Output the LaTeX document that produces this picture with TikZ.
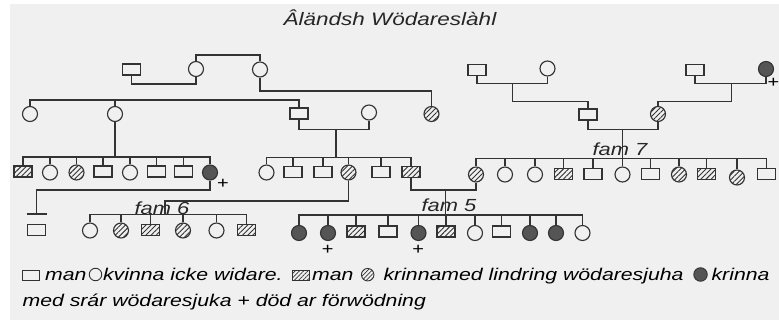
\documentclass[tikz,border=0pt]{standalone}
\usepackage{fontspec}
\setmainfont{Liberation Sans}[FakeStretch=1.25]
\usetikzlibrary{patterns.meta}
\definecolor{bg}{HTML}{F0F0F0}
\definecolor{ink}{HTML}{333333}
\definecolor{dark}{HTML}{555555}
\begin{document}
\begin{tikzpicture}[x=1pt,y=-1pt,line width=1.15pt,color=ink,
  sq/.style={rectangle,draw=ink,minimum width=18pt,minimum height=11pt,inner sep=0pt},
  ci/.style={circle,draw=ink,minimum size=15pt,inner sep=0pt},
  hatch/.style={pattern={Lines[angle=45,distance=3.6pt,line width=0.9pt]},pattern color=ink},
  hsq/.style={sq,hatch}, hci/.style={ci,hatch}, fci/.style={ci,fill=dark},
  lsq/.style={rectangle,draw=ink,line width=0.9pt,minimum width=17pt,minimum height=10pt,inner sep=0pt},
  lci/.style={circle,draw=ink,line width=0.9pt,minimum size=12.5pt,inner sep=0pt},
  lhatch/.style={pattern={Lines[angle=45,distance=3pt,line width=0.7pt]},pattern color=ink},
  lhsq/.style={lsq,lhatch}, lhci/.style={lci,lhatch},
  lfci/.style={lci,fill=dark,minimum size=13.5pt},
  lbl/.style={font=\fontsize{17.5}{21}\selectfont\itshape,text=black!85,inner sep=0pt},
  leg/.style={font=\fontsize{17}{21}\selectfont\itshape,text=black,inner sep=0pt,anchor=base west},
  plus/.style={font=\fontsize{16}{20}\selectfont,text=black,inner sep=0pt}]
\useasboundingbox (0,0) rectangle (779,320);
\fill[white] (0,0) rectangle (779,320);
\fill[bg] (10,4) rectangle (779,320);
% title
\node[font=\fontsize{18}{22}\selectfont\itshape,text=black!85,inner sep=0pt] (title) at (390,18) {Âländsh Wödareslàhl};
% generation 1
\node[sq]  (m1) at (131.5,69.5) {};
\node[ci]  (f1) at (196,69) {};
\node[ci]  (f2) at (260,69.5) {};
\node[sq]  (m2) at (477,69.7) {};
\node[ci]  (f3) at (547.5,68.5) {};
\node[sq]  (m3) at (695,70) {};
\node[fci] (f4) at (766,69) {};
\node[plus] (p0) at (773.5,83) {+};
% generation 2
\node[ci]  (ca) at (30,114) {};
\node[ci]  (cb) at (115,114) {};
\node[sq]  (s1) at (299,113.5) {};
\node[ci]  (w1) at (369,112.5) {};
\node[hci] (h1) at (431.5,114) {};
\node[sq]  (m4) at (588,114.5) {};
\node[hci] (h2) at (658,114) {};
% generation 3 left
\node[hsq] (L1) at (23,171.5) {};
\node[ci]  (L2) at (50,172.5) {};
\node[hci] (L3) at (76.5,172.5) {};
\node[sq]  (L4) at (103,171.5) {};
\node[ci]  (L5) at (130,172.5) {};
\node[sq]  (L6) at (156.7,171.5) {};
\node[sq]  (L7) at (183.3,171.5) {};
\node[fci] (L8) at (210,172.5) {};
\node[plus] (p1) at (223,184) {+};
% generation 3 middle
\node[ci]  (M1) at (266.5,172.5) {};
\node[sq]  (M2) at (293,172) {};
\node[sq]  (M3) at (323,172) {};
\node[hci] (M4) at (348.5,172.5) {};
\node[sq]  (M5) at (381,172) {};
\node[hsq] (M6) at (411,172) {};
% generation 3 right (fam 7)
\node[hci] (R1) at (476,174.5) {};
\node[ci]  (R2) at (505,174.5) {};
\node[ci]  (R3) at (535,174.5) {};
\node[hsq] (R4) at (563.7,174) {};
\node[sq]  (R5) at (593,174) {};
\node[ci]  (R6) at (622.5,174.5) {};
\node[sq]  (R7) at (650.5,174) {};
\node[hci] (R8) at (679,174.5) {};
\node[hsq] (R9) at (706.7,174) {};
\node[hci] (R10) at (737,177.5) {};
\node[sq]  (R11) at (766.7,174) {};
% generation 4
\node[sq]  (P1) at (36.5,230) {};
\node[ci]  (S1) at (90,230.5) {};
\node[hci] (S2) at (121,230.5) {};
\node[hsq] (S3) at (150.3,230) {};
\node[hci] (S4) at (183,230.5) {};
\node[ci]  (S5) at (216.5,230.5) {};
\node[hsq] (S6) at (246.5,230) {};
\node[fci] (F1) at (299,233) {};
\node[fci] (F2) at (328,233) {};
\node[plus] (p2) at (327.7,250) {+};
\node[hsq] (F3) at (356,231.5) {};
\node[sq]  (F4) at (388,231.5) {};
\node[fci] (F5) at (418.5,233) {};
\node[plus] (p3) at (418.3,250) {+};
\node[hsq] (F6) at (446,231.5) {};
\node[ci]  (F7) at (475,233) {};
\node[sq]  (F8) at (501.5,231.5) {};
\node[fci] (F9) at (530,233) {};
\node[fci] (F10) at (556,233) {};
\node[ci]  (F11) at (582.5,233) {};
% junction coordinates
\coordinate (c1) at (164,84);
\coordinate (c2) at (228,55);
\coordinate (c3) at (345,91);
\coordinate (c4) at (165,100);
\coordinate (c5) at (336,129.3);
\coordinate (c6) at (336,157.3);
\coordinate (c7) at (115,157);
\coordinate (c8) at (512.7,83.7);
\coordinate (c9) at (512.7,101.7);
\coordinate (c10) at (731.7,83.7);
\coordinate (c11) at (731.7,101.7);
\coordinate (c12) at (622.7,129.3);
\coordinate (c13) at (622.7,158.3);
\coordinate (c14) at (445.7,190);
\coordinate (c15) at (445.7,215);
\coordinate (c16) at (165,201);
\coordinate (c17) at (165,214.3);
\coordinate (c18) at (36.5,190);
\coordinate (c19) at (36.5,214);
\coordinate (c19a) at (26.5,214);
\coordinate (c19b) at (46.5,214);
% connectors generation 1
\draw (m1.south) |- (c1) -| (f1.south);
\draw (f1.north) |- (c2) -| (f2.north);
\draw (f2.south) |- (c3) -| (h1.north);
\draw (ca.north) |- (c4) -| (s1.north);
\draw (cb.north) -- (cb.north |- c4);
\draw (m2.south) |- (c8) -| (f3.south);
\draw (c8) -- (c9) -| (m4.north);
\draw (m3.south) |- (c10) -| (f4.south);
\draw (c10) -- (c11) -| (h2.north);
% connectors generation 2
\draw (cb.south) -- (c7);
\draw (L1.north) |- (c7) -| (L8.north);
\foreach \n in {L2,L3,L4,L5,L6,L7} \draw (\n.north) -- (\n.north |- c7);
\draw (s1.south) |- (c5) -| (w1.south);
\draw (c5) -- (c6);
\draw (M1.north) |- (c6) -| (M6.north);
\foreach \n in {M2,M3,M4,M5} \draw (\n.north) -- (\n.north |- c6);
\draw (m4.south) |- (c12) -| (h2.south);
\draw (c12) -- (c13);
\draw (R1.north) |- (c13) -| (R11.north);
\foreach \n in {R2,R3,R4,R5,R6,R7,R8,R9,R10} \draw (\n.north) -- (\n.north |- c13);
% connectors generation 3
\draw (L8.south) |- (c18) -- (c19);
\draw (c19a) -- (c19b);
\draw (M4.south) |- (c16) -- (c17);
\draw (S1.north) |- (c17) -| (S6.north);
\foreach \n in {S2,S3,S4,S5} \draw (\n.north) -- (\n.north |- c17);
\draw (M6.south) |- (c14) -| (R1.south);
\draw (c14) -- (c15);
\draw (F1.north) |- (c15) -| (F11.north);
\foreach \n in {F2,F3,F4,F5,F6,F7,F8,F9,F10} \draw (\n.north) -- (\n.north |- c15);
% family labels
\node[lbl] (fam6) at (162,208) {fam 6};
\node[lbl] (fam5) at (449,205) {fam 5};
\node[lbl] (fam7) at (620,149) {fam 7};
% legend
\node[lsq] (k1) at (30.5,275.5) {};
\node[leg] (t1) at (44.5,281) {man};
\node[lci] (k2) at (95.5,274.5) {};
\node[leg] (t2) at (102.5,281) {kvinna icke widare.};
\node[lhsq] (k3) at (301.2,275.2) {};
\node[leg] (t3) at (311.5,281) {man};
\node[lhci] (k4) at (367.7,274.7) {};
\node[leg] (t4) at (383,281) {krinnamed lindring wödaresjuha};
\node[lfci] (k5) at (700.5,274.5) {};
\node[leg] (t5) at (711,281) {krinna};
\node[leg] (t6) at (22,307) {med srár wödaresjuka + död ar förwödning};
\end{tikzpicture}
\end{document}
